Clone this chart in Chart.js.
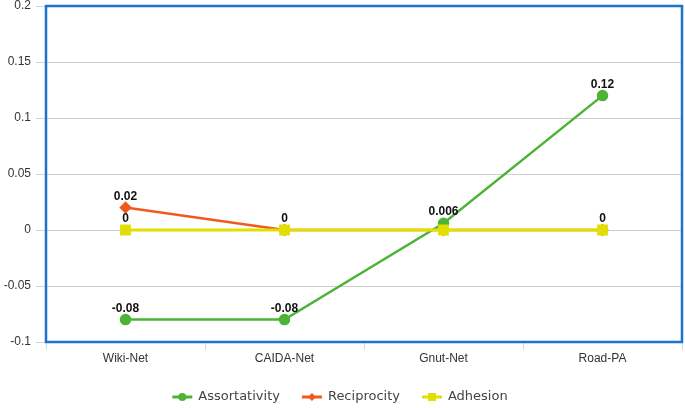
<!DOCTYPE html>
<html>
<head>
<meta charset="utf-8">
<script src="https://cdn.jsdelivr.net/npm/chart.js@4"></script>
<style>
  body { margin: 0; background: #fff; }
  #wrap { width: 685px; height: 408px; }
</style>
</head>
<body>
<div id="wrap"><canvas id="chart" width="685" height="408"></canvas></div>
<script>
// data
const networks = ['Wiki-Net', 'CAIDA-Net', 'Gnut-Net', 'Road-PA'];
const assortativity = [-0.08, -0.08, 0.006, 0.12];
const reciprocity = [0.02, 0, 0, 0];
const adhesion = [0, 0, 0, 0];
const yTicks = [-0.1, -0.05, 0, 0.05, 0.1, 0.15, 0.2];

// which value labels are visible (others hidden under overlapping marks)
const assortShow = [true, true, true, true];
const recipShow = [true, false, false, false];
const adhesShow = [true, true, false, true];

const fmt = v => String(v);

// value labels above points
const valueLabels = {
  id: 'valueLabels',
  afterDatasetsDraw(chart) {
    const ctx = chart.ctx;
    ctx.save();
    ctx.font = 'bold 12px "Liberation Sans", Arial, sans-serif';
    ctx.fillStyle = '#111';
    ctx.textAlign = 'center';
    ctx.textBaseline = 'alphabetic';
    chart.data.datasets.forEach((ds, i) => {
      const meta = chart.getDatasetMeta(i);
      meta.data.forEach((pt, j) => {
        if (!ds.showLabel[j]) return;
        ctx.fillText(fmt(ds.data[j]), pt.x, pt.y - 8);
      });
    });
    ctx.restore();
  }
};

// blue frame round the plot area
const frame = {
  id: 'frame',
  beforeDatasetsDraw(chart) {
    const a = chart.chartArea;
    const ctx = chart.ctx;
    ctx.save();
    ctx.strokeStyle = '#1a73cc';
    ctx.lineWidth = 2.5;
    ctx.strokeRect(a.left, a.top, a.right - a.left, a.bottom - a.top);
    ctx.restore();
  }
};

// legend with a short line and marker, centred below the axis
const lineLegend = {
  id: 'lineLegend',
  afterDraw(chart) {
    const ctx = chart.ctx;
    const items = chart.data.datasets;
    ctx.save();
    ctx.font = '13px "DejaVu Sans", Verdana, sans-serif';
    ctx.textBaseline = 'middle';
    const lineW = 20, gapText = 6, gapItem = 22;
    const widths = items.map(d => lineW + gapText + ctx.measureText(d.label).width);
    const total = widths.reduce((s, w) => s + w, 0) + gapItem * (items.length - 1);
    let x = (chart.width - total) / 2 - 2.5;
    const y = 397;
    items.forEach((d, i) => {
      ctx.strokeStyle = d.borderColor;
      ctx.lineWidth = 3;
      ctx.beginPath();
      ctx.moveTo(x, y);
      ctx.lineTo(x + lineW, y);
      ctx.stroke();
      ctx.fillStyle = d.backgroundColor;
      const cx = x + lineW / 2;
      ctx.beginPath();
      if (d.pointStyle === 'circle') {
        ctx.arc(cx, y, 4, 0, Math.PI * 2);
      } else if (d.pointStyle === 'rectRot') {
        ctx.moveTo(cx, y - 4); ctx.lineTo(cx + 4, y); ctx.lineTo(cx, y + 4); ctx.lineTo(cx - 4, y);
        ctx.closePath();
      } else {
        ctx.rect(cx - 4, y - 4, 8, 8);
      }
      ctx.fill();
      ctx.fillStyle = '#444';
      ctx.fillText(d.label, x + lineW + gapText, y);
      x += widths[i] + gapItem;
    });
    ctx.restore();
  }
};

new Chart(document.getElementById('chart'), {
  type: 'line',
  data: {
    labels: networks,
    datasets: [
      {
        label: 'Assortativity',
        data: assortativity,
        showLabel: assortShow,
        borderColor: '#4db336',
        backgroundColor: '#4db336',
        borderWidth: 2.5,
        pointStyle: 'circle',
        pointRadius: 4.5,
        pointHoverRadius: 4.5,
        order: 2
      },
      {
        label: 'Reciprocity',
        data: reciprocity,
        showLabel: recipShow,
        borderColor: '#f05a1e',
        backgroundColor: '#f05a1e',
        borderWidth: 2.5,
        pointStyle: 'rectRot',
        pointRadius: 4.5,
        pointHoverRadius: 4.5,
        order: 1
      },
      {
        label: 'Adhesion',
        data: adhesion,
        showLabel: adhesShow,
        borderColor: '#e2df00',
        backgroundColor: '#e2df00',
        borderWidth: 3,
        pointStyle: 'rect',
        pointRadius: 5.5,
        pointHoverRadius: 5.5,
        order: 0
      }
    ]
  },
  options: {
    responsive: false,
    animation: false,
    layout: { autoPadding: false, padding: { top: 6, right: 3, bottom: 42, left: 0 } },
    plugins: {
      legend: { display: false },
      tooltip: { enabled: false }
    },
    scales: {
      x: {
        offset: true,
        afterFit(scale) {
          scale.height = 24;
          scale.paddingLeft = 0;
          scale.paddingRight = 0;
        },
        grid: {
          offset: true,
          drawOnChartArea: false,
          tickLength: 8,
          tickColor: '#d3dce8',
          lineWidth: 1
        },
        border: { display: false },
        ticks: {
          color: '#333',
          padding: 1,
          font: { family: '"Liberation Sans", Arial, sans-serif', size: 12 }
        }
      },
      y: {
        min: -0.1,
        max: 0.2,
        afterFit(scale) {
          scale.width = 46;
          scale.paddingTop = 0;
          scale.paddingBottom = 0;
        },
        afterBuildTicks(scale) { scale.ticks = yTicks.map(v => ({ value: v })); },
        grid: {
          color: '#cfcfcf',
          tickColor: '#c9d6e6',
          tickLength: 10,
          lineWidth: 1
        },
        border: { display: false },
        ticks: {
          color: '#333',
          padding: 5,
          font: { family: '"Liberation Sans", Arial, sans-serif', size: 12 },
          callback: v => fmt(v)
        }
      }
    }
  },
  plugins: [frame, valueLabels, lineLegend]
});
</script>
</body>
</html>
